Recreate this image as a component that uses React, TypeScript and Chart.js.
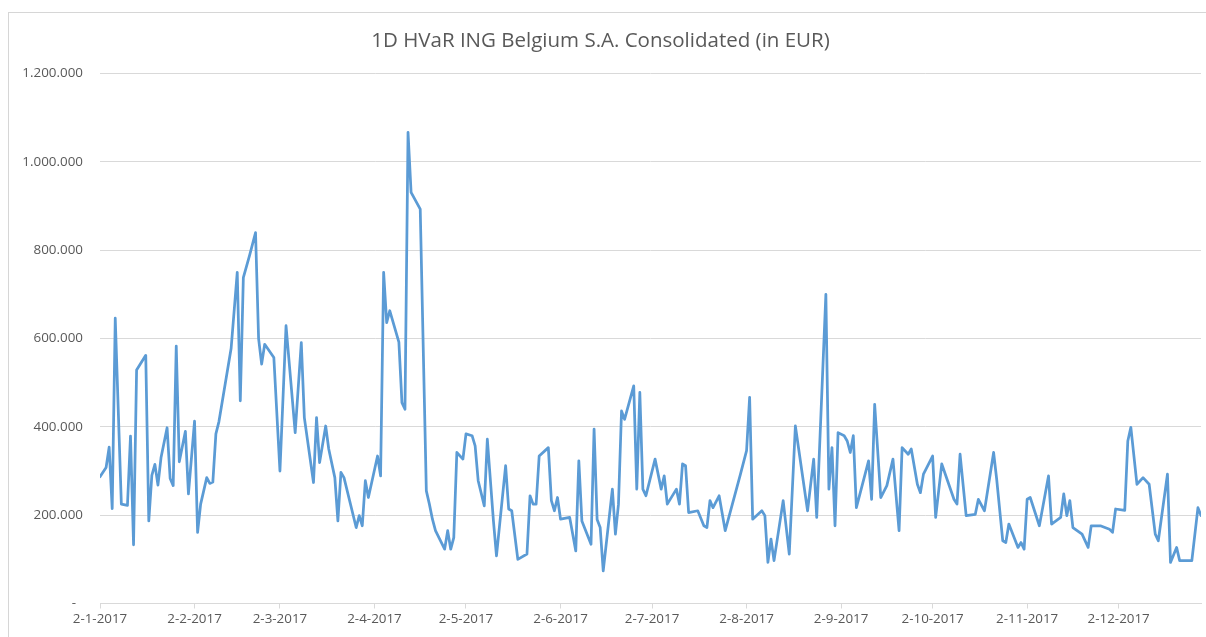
import React, { useEffect, useRef } from "react";
import { Chart, registerables } from "chart.js";

Chart.register(...registerables);

// Days since 2-1-2017 for each plotted observation
const DAYS: number[] = [
  0, 2, 3, 4, 5, 7, 9, 10, 11, 12, 15, 16, 17, 18, 19, 20, 22, 23, 24, 25, 26, 28, 29, 31, 32, 33,
  35, 36, 37, 38, 39, 43, 45, 46, 47, 49, 51, 52, 53, 54, 57, 59, 61, 64, 66, 67, 70, 71, 72, 74,
  75, 77, 78, 79, 80, 84, 85, 86, 87, 88, 91, 92, 93, 94, 95, 98, 99, 100, 101, 102, 105, 107, 108,
  109, 110, 113, 114, 115, 116, 117, 119, 120, 122, 123, 124, 126, 127, 129, 130, 133, 134, 135,
  137, 140, 141, 142, 143, 144, 147, 148, 149, 150, 151, 154, 156, 157, 158, 161, 162, 163, 164,
  165, 168, 169, 170, 171, 172, 175, 176, 177, 178, 179, 182, 184, 185, 186, 189, 190, 191, 192,
  193, 196, 198, 199, 200, 201, 203, 205, 210, 212, 213, 214, 217, 218, 219, 220, 221, 224, 226,
  228, 232, 234, 235, 238, 239, 240, 241, 242, 244, 245, 246, 247, 248, 252, 253, 254, 256, 258,
  260, 262, 263, 265, 266, 268, 269, 270, 273, 274, 276, 280, 281, 282, 284, 287, 288, 290, 293,
  294, 296, 297, 298, 301, 302, 303, 304, 305, 308, 311, 312, 315, 316, 317, 318, 319, 322, 324,
  325, 328, 331, 332, 333, 336, 337, 338, 340, 342, 344, 346, 347, 350, 351, 353, 354, 358, 360, 361,
];

// 1D HVaR in thousands of EUR
const HVAR_K: number[] = [
  287, 308, 354, 215, 646, 225, 222, 379, 133, 529, 562, 187, 290, 315, 268, 330, 398, 283, 267, 583, 321, 390, 248, 413, 161, 225,
  285, 272, 275, 384, 412, 578, 750, 459, 738, 787, 840, 600, 542, 587, 557, 300, 629, 387, 591, 421, 274, 421, 319, 402,
  350, 285, 187, 297, 285, 172, 199, 176, 278, 240, 334, 289, 750, 636, 663, 592, 455, 440, 1067, 931, 893, 255, 225,
  191, 165, 123, 165, 123, 149, 342, 327, 384, 380, 357, 278, 221, 372, 187, 108, 312, 214, 210,
  100, 112, 244, 225, 225, 334, 353, 233, 210, 240, 191, 195, 119, 323, 187, 134, 395, 190, 172,
  74, 259, 157, 225, 436, 417, 493, 259, 478, 259, 244, 327, 259, 289, 225, 259, 225, 316, 312,
  206, 210, 176, 172, 233, 217, 244, 165, 293, 346, 467, 191, 210, 199, 93, 146, 97, 233, 112,
  402, 210, 327, 195, 700, 259, 353, 176, 387, 380, 368, 342, 380, 217, 323, 236, 451, 240, 267,
  327, 165, 353, 338, 350, 270, 251, 293, 334, 195, 316, 236, 225, 338, 199, 202, 236, 210, 342,
  282, 142, 138, 180, 127, 138, 123, 236, 240, 176, 289, 180, 195, 248, 199, 233, 172, 157, 127,
  176, 176, 168, 161, 214, 211, 368, 399, 270, 285, 270, 157, 142, 293, 93, 127, 97, 97, 217, 199,
];

const TICK_DAYS: number[] = [0, 31, 59, 90, 120, 151, 181, 212, 243, 273, 304, 334];
const TICK_LABELS: string[] = [
  "2-1-2017", "2-2-2017", "2-3-2017", "2-4-2017", "2-5-2017", "2-6-2017",
  "2-7-2017", "2-8-2017", "2-9-2017", "2-10-2017", "2-11-2017", "2-12-2017",
];

const TITLE = "1D HVaR ING Belgium S.A. Consolidated (in EUR)";
const FONT = "'Open Sans', 'Noto Sans', sans-serif";
const TEXT = "#595959";
const GRID = "#d9d9d9";

function fmt(v: number): string {
  if (v === 0) return "-  ";
  return String(Math.round(v)).replace(/\B(?=(\d{3})+(?!\d))/g, ".");
}

export default function App() {
  const ref = useRef<HTMLCanvasElement | null>(null);

  useEffect(() => {
    if (!ref.current) return;
    const points = DAYS.map((d, i) => ({ x: d, y: HVAR_K[i] * 1000 }));
    const chart = new Chart(ref.current, {
      type: "line",
      data: {
        datasets: [
          {
            data: points,
            borderColor: "#5B9BD5",
            backgroundColor: "#5B9BD5",
            borderWidth: 2.75,
            pointRadius: 0,
            tension: 0,
            borderJoinStyle: "round",
            borderCapStyle: "round",
          },
        ],
      },
      options: {
        animation: false,
        responsive: false,
        devicePixelRatio: 1,
        layout: { padding: { left: 0, right: 5, top: 0, bottom: 0 } },
        plugins: {
          legend: { display: false },
          tooltip: { enabled: false },
          title: {
            display: true,
            text: TITLE,
            color: TEXT,
            font: { family: FONT, size: 20.5, weight: "normal" },
            padding: { top: 29, bottom: 20 },
          },
        },
        scales: {
          x: {
            type: "linear",
            min: 0,
            max: 361,
            afterFit: (s: any) => {
              s.height = 33.5;
            },
            afterBuildTicks: (s: any) => {
              s.ticks = TICK_DAYS.map((v) => ({ value: v }));
            },
            ticks: {
              autoSkip: false,
              maxRotation: 0,
              minRotation: 0,
              padding: 3,
              color: TEXT,
              font: { family: FONT, size: 13.4 },
              callback: (_v: any, i: number) => TICK_LABELS[i],
            },
            grid: {
              drawOnChartArea: false,
              drawTicks: true,
              tickLength: 5,
              color: GRID,
            },
            border: { display: true, color: GRID },
          },
          y: {
            min: 0,
            max: 1200000,
            afterFit: (s: any) => {
              s.width = 100;
            },
            ticks: {
              stepSize: 200000,
              padding: 17,
              color: TEXT,
              font: { family: FONT, size: 13.4 },
              callback: (v: any) => fmt(Number(v)),
            },
            grid: { color: GRID, drawTicks: false },
            border: { display: false },
          },
        },
      },
    } as any);
    return () => chart.destroy();
  }, []);

  return (
    <div
      style={{
        position: "fixed",
        left: 0,
        top: 0,
        width: 1206,
        height: 637,
        overflow: "hidden",
        background: "#fff",
      }}
    >
      <div
        style={{
          position: "absolute",
          left: 8,
          top: 12,
          width: 1400,
          height: 800,
          borderLeft: "1px solid #d6d6d6",
          borderTop: "1px solid #d6d6d6",
        }}
      />
      <canvas
        ref={ref}
        width={1206}
        height={637}
        style={{ position: "absolute", left: 0, top: 0, width: 1206, height: 637 }}
      />
    </div>
  );
}
